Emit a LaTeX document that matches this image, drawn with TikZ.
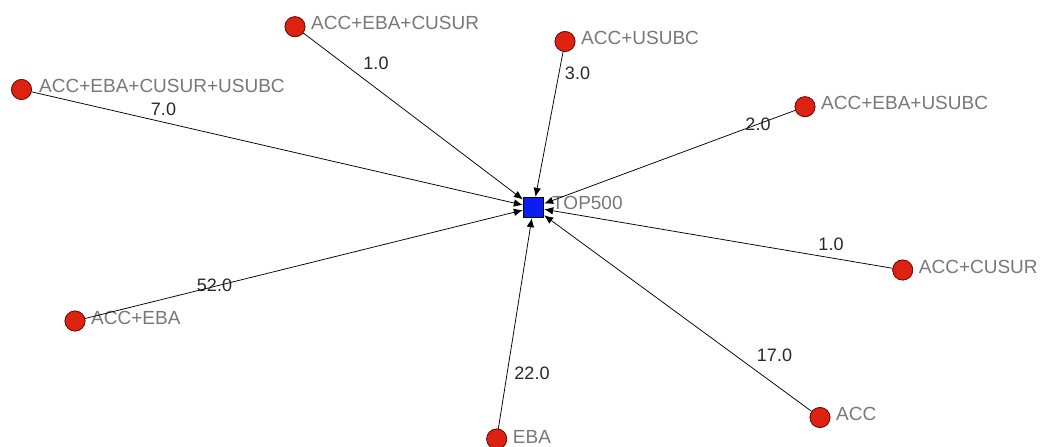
\documentclass[tikz,border=0pt]{standalone}
\usepackage{fontspec}
\setmainfont{Liberation Sans}
\usetikzlibrary{arrows.meta}
\definecolor{nodered}{RGB}{222,34,18}
\definecolor{nodeedge}{RGB}{110,10,5}
\definecolor{hubblue}{RGB}{10,30,240}
\definecolor{labgray}{RGB}{120,120,120}
\definecolor{wgtgray}{RGB}{40,40,40}
\begin{document}
\begin{tikzpicture}[x=1pt,y=-1pt,
  member/.style={circle,fill=nodered,draw=nodeedge,line width=0.7pt,minimum size=20pt,inner sep=0pt},
  hub/.style={rectangle,fill=hubblue,draw=black,line width=0.8pt,minimum size=20.5pt,inner sep=0pt},
  nametext/.style={anchor=west,inner sep=0pt,text=labgray,font=\fontsize{19}{22}\selectfont},
  weight/.style={inner sep=0pt,text=wgtgray,font=\fontsize{18}{21}\selectfont},
  link/.style={draw=black,line width=0.75pt,-{Latex[length=9pt,width=7.5pt]}}
]
\useasboundingbox (0,0) rectangle (1045,447);

% hub
\node[hub] (top) at (533.5,207.5) {};
\node[nametext] (ttop) at ([xshift=18.5pt,yshift=4.5pt]top.center) {TOP500};

% members
\node[member] (c1) at (295,26.7) {};
\node[member] (c2) at (565,41.5) {};
\node[member] (c3) at (21.5,89.5) {};
\node[member] (c4) at (805,106.7) {};
\node[member] (c5) at (902.7,270) {};
\node[member] (c6) at (75,321) {};
\node[member] (c7) at (496.7,439) {};
\node[member] (c8) at (820,417.5) {};

\node[nametext] (t1) at ([xshift=16pt,yshift=3.5pt]c1.center) {ACC+EBA+CUSUR};
\node[nametext] (t2) at ([xshift=16pt,yshift=3.5pt]c2.center) {ACC+USUBC};
\node[nametext] (t3) at ([xshift=17.5pt,yshift=3.5pt]c3.center) {ACC+EBA+CUSUR+USUBC};
\node[nametext] (t4) at ([xshift=16pt,yshift=3.5pt]c4.center) {ACC+EBA+USUBC};
\node[nametext] (t5) at ([xshift=16pt,yshift=3.5pt]c5.center) {ACC+CUSUR};
\node[nametext] (t6) at ([xshift=16pt,yshift=3pt]c6.center) {ACC+EBA};
\node[nametext] (t7) at ([xshift=16pt,yshift=2pt]c7.center) {EBA};
\node[nametext] (t8) at ([xshift=16pt,yshift=3.5pt]c8.center) {ACC};

% links into the hub
\foreach \m in {c1,c2,c3,c4,c5,c6,c7,c8}
  \draw[link] (\m) -- (top);

% redraw members over the line starts
\foreach \m in {c1,c2,c3,c4,c5,c6,c7,c8}
  \node[member] at (\m.center) {};

% link weights
\node[weight] (w1) at (376,63) {1.0};
\node[weight] (w2) at (577.5,73) {3.0};
\node[weight] (w3) at (163.5,109) {7.0};
\node[weight] (w4) at (758,124) {2.0};
\node[weight] (w5) at (831,244) {1.0};
\node[weight] (w6) at (214.5,285) {52.0};
\node[weight] (w7) at (532,373) {22.0};
\node[weight] (w8) at (774.5,355) {17.0};
\end{tikzpicture}
\end{document}
